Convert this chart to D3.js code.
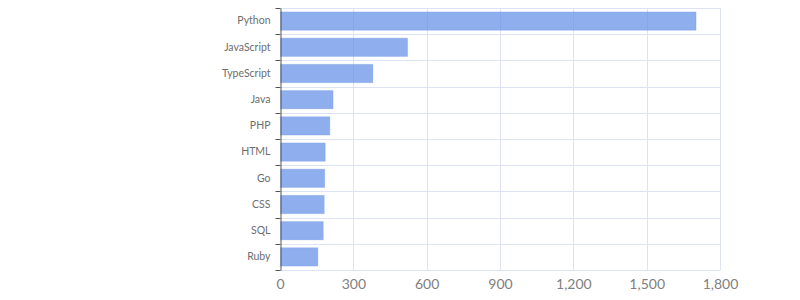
<!DOCTYPE html>
<html><head><meta charset="utf-8">
<script src="https://cdn.jsdelivr.net/npm/d3@7"></script>
<style>body{margin:0;background:#fff;}svg{display:block;} svg text{font-family:Lato,"Noto Sans",sans-serif;}</style>
</head><body>
<svg id="chart" width="800" height="300"></svg>
<script>
const languages = ["Python","JavaScript","TypeScript","Java","PHP","HTML","Go","CSS","SQL","Ruby"];
const counts = [1700,520,378,215,202,183,181,179,175,153];
const xTicks = [0,300,600,900,1200,1500,1800];

const svg = d3.select("#chart");
const m = {left:280, right:80, top:8, bottom:30};
const W = 800, H = 300;
const x = d3.scaleLinear().domain([0,1800]).range([m.left, W-m.right]);
const y = d3.scaleBand().domain(languages).range([m.top, H-m.bottom]).paddingInner(0.3).paddingOuter(0.15);
const yb = d3.scaleBand().domain(languages).range([m.top, H-m.bottom]);
const grid = "#dde3f2";

const bounds = languages.map(d=>yb(d)).concat([H-m.bottom]);
svg.append("g").selectAll("line").data(bounds).join("line")
  .attr("x1",m.left).attr("x2",W-m.right)
  .attr("y1",d=>Math.round(d)+0.5).attr("y2",d=>Math.round(d)+0.5)
  .attr("stroke",grid);
svg.append("g").selectAll("line").data(xTicks.slice(1)).join("line")
  .attr("x1",d=>Math.round(x(d))+0.5).attr("x2",d=>Math.round(x(d))+0.5)
  .attr("y1",m.top).attr("y2",H-m.bottom)
  .attr("stroke",grid);

svg.append("g").selectAll("rect").data(languages).join("rect")
  .attr("x",x(0)+0.5).attr("y",d=>y(d))
  .attr("width",(d,i)=>x(counts[i])-x(0))
  .attr("height",y.bandwidth())
  .attr("fill","#6a93e8").attr("fill-opacity",0.75)
  .attr("stroke","#6a93e8").attr("stroke-opacity",0.25);

const yAxis = d3.axisLeft(yb).tickSize(0).tickPadding(10);
const gy = svg.append("g").attr("transform",`translate(${m.left+0.5},0)`).call(yAxis).attr("font-family",null);
gy.select(".domain").attr("stroke","#555");
gy.selectAll("text").attr("fill","#6e6e6e").style("font-size","10.5px");
gy.append("g").selectAll("line").data(bounds).join("line")
  .attr("x1",-5).attr("x2",0)
  .attr("y1",d=>Math.round(d)+0.5).attr("y2",d=>Math.round(d)+0.5)
  .attr("stroke","#555");

const xAxis = d3.axisBottom(x).tickValues(xTicks).tickSize(0).tickPadding(9).tickFormat(d3.format(","));
const gx = svg.append("g").attr("transform",`translate(0,${H-m.bottom})`).call(xAxis).attr("font-family",null);
gx.select(".domain").remove();
gx.selectAll("text").attr("fill","#808080").style("font-size","14px");
</script>
</body></html>
